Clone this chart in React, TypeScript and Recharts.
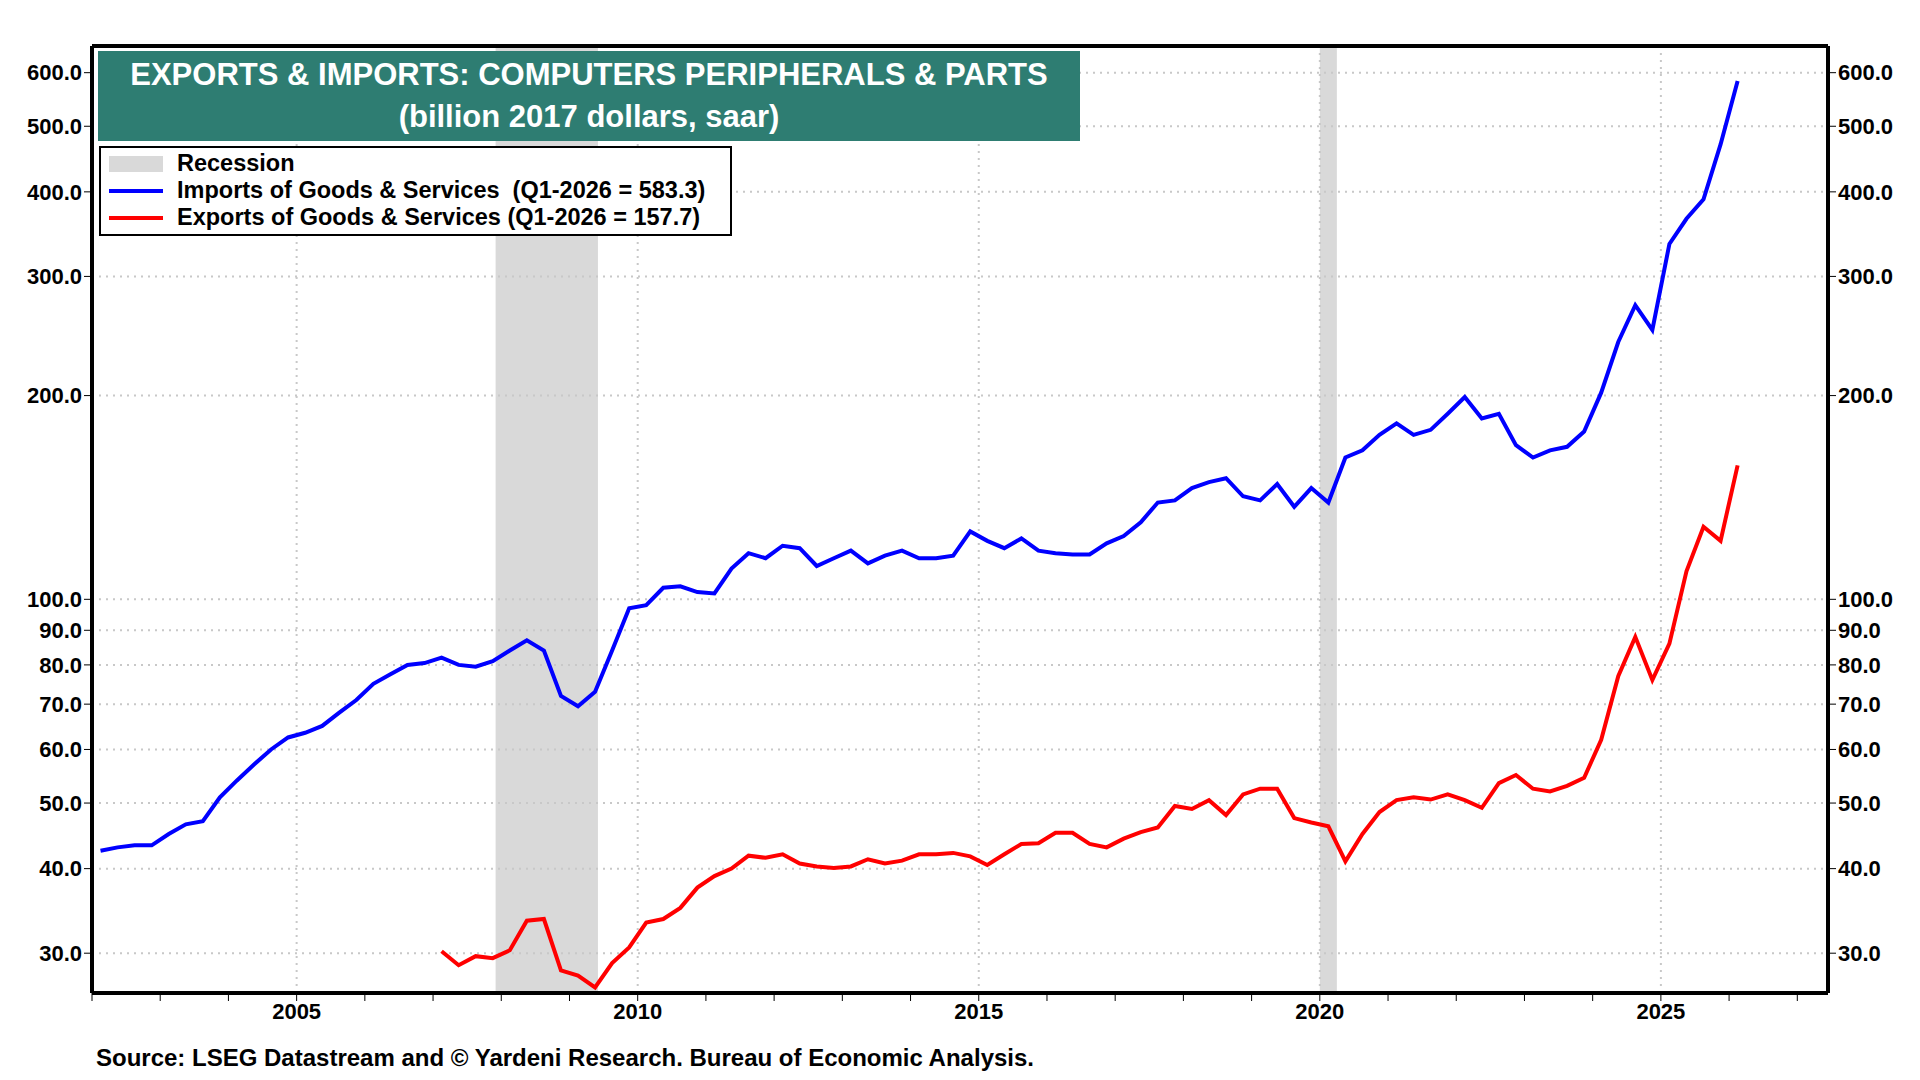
import React from 'react';
import { LineChart, Line, XAxis, YAxis, ReferenceArea, ReferenceLine } from 'recharts';

// quarterly values, imports from Q1-2002, exports from Q1-2007
const imports = [
  42.5, 43, 43.3, 43.3, 45, 46.5, 47, 51, 54, 57, 60, 62.5,
  63.5, 65, 68, 71, 75, 77.5, 80, 80.5, 82, 80, 79.5, 81,
  84, 87, 84, 72, 69.5, 73, 84, 97, 98, 104, 104.5, 102.5,
  102, 111, 117, 115, 120, 119, 112, 115, 118, 113, 116, 118,
  115, 115, 116, 126, 122, 119, 123, 118, 117, 116.5, 116.5, 121,
  124, 130, 139, 140, 146, 149, 151, 142, 140, 148, 137, 146,
  139, 162, 166, 175, 182, 175, 178, 188, 199, 185, 188, 169,
  162, 166, 168, 177, 202, 240, 272, 250, 335, 365, 390, 470, 583.3,
];
const exportsData = [
  30.2, 28.8, 29.7, 29.5, 30.3, 33.5, 33.7, 28.3, 27.8, 26.7, 29, 30.6,
  33.3, 33.7, 35, 37.5, 39, 40, 41.8, 41.5, 42, 40.7, 40.3, 40.1,
  40.3, 41.3, 40.7, 41.1, 42, 42, 42.2, 41.7, 40.5, 42, 43.5, 43.6,
  45.2, 45.2, 43.5, 43, 44.3, 45.3, 46, 49.5, 49, 50.5, 48, 51.5,
  52.5, 52.5, 47.5, 46.8, 46.2, 41, 45, 48.5, 50.5, 51, 50.6,
  51.5, 50.5, 49.2, 53.5, 55, 52.5, 52, 53, 54.5, 62, 77, 88,
  76, 86, 110, 128, 122, 157.7,
];
const yTicks = [30, 40, 50, 60, 70, 80, 90, 100, 200, 300, 400, 500, 600];
const years = Array.from({ length: 26 }, (_, i) => 2002 + i);
const majorYears = [2005, 2010, 2015, 2020, 2025];
const recessions = [
  [2007.917, 2009.417],
  [2020.0, 2020.25],
];

const data = imports.map((v, i) => ({
  t: 2002 + i / 4 + 0.125,
  imp: v,
  exp: i >= 20 ? exportsData[i - 20] : null,
}));

const font = '"Liberation Sans", Arial, sans-serif';
const tickStyle = { fontSize: 22, fontWeight: 'bold', fill: '#000', fontFamily: font };

export default function App() {
  return (
    <div style={{ position: 'absolute', left: 0, top: 0, width: 1920, height: 1080, background: '#fff', fontFamily: font }}>
      <LineChart width={1920} height={1080} data={data} margin={{ top: 46, right: 0, bottom: 0, left: 0 }}>
        {recessions.map(([a, b]) => (
          <ReferenceArea key={a} yAxisId="l" x1={a} x2={b} fill="#d9d9d9" fillOpacity={1} stroke="none" />
        ))}
        {yTicks.map((v) => (
          <ReferenceLine key={v} yAxisId="l" y={v} stroke="#c8c8c8" strokeWidth={2} strokeDasharray="2 5" />
        ))}
        {majorYears.map((y) => (
          <ReferenceLine key={y} yAxisId="l" x={y} stroke="#c8c8c8" strokeWidth={2} strokeDasharray="2 5" />
        ))}
        <XAxis
          dataKey="t"
          type="number"
          domain={[2002, 2027.45]}
          ticks={years}
          tickFormatter={(v: number) => (v % 5 === 0 ? String(v) : '')}
          height={87}
          stroke="#000"
          axisLine={{ strokeWidth: 4 }}
          tickSize={8}
          tick={tickStyle}
          interval={0}
        />
        <YAxis
          yAxisId="l"
          scale="log"
          domain={[26.2, 657]}
          ticks={yTicks}
          tickFormatter={(v: number) => v.toFixed(1)}
          width={92}
          stroke="#000"
          axisLine={{ strokeWidth: 4 }}
          tickSize={8}
          tick={tickStyle}
          interval={0}
          allowDataOverflow
        />
        <YAxis
          yAxisId="r"
          orientation="right"
          scale="log"
          domain={[26.2, 657]}
          ticks={yTicks}
          tickFormatter={(v: number) => v.toFixed(1)}
          width={92}
          stroke="#000"
          axisLine={{ strokeWidth: 4 }}
          tickSize={8}
          tick={tickStyle}
          interval={0}
          allowDataOverflow
        />
        <ReferenceLine yAxisId="l" y={657} stroke="#000" strokeWidth={4} />
        <Line yAxisId="l" dataKey="imp" stroke="#0000ff" strokeWidth={4} dot={false} isAnimationActive={false} />
        <Line yAxisId="l" dataKey="exp" stroke="#ff0000" strokeWidth={4} dot={false} isAnimationActive={false} connectNulls={false} />
      </LineChart>
      <div style={{ position: 'absolute', left: 98, top: 51, width: 982, height: 90, background: '#2e7d72', color: '#fff', fontWeight: 'bold', fontSize: 31, textAlign: 'center', lineHeight: '42px', paddingTop: 3, boxSizing: 'border-box' }}>
        <div>EXPORTS &amp; IMPORTS: COMPUTERS PERIPHERALS &amp; PARTS</div>
        <div>(billion 2017 dollars, saar)</div>
      </div>
      <div style={{ position: 'absolute', left: 99, top: 146, width: 633, height: 90, border: '2px solid #000', background: '#fff', boxSizing: 'border-box', padding: '2px 8px', fontWeight: 'bold', fontSize: 23.5, lineHeight: '27px' }}>
        {[
          { c: '#d9d9d9', h: 16, t: 'Recession' },
          { c: '#0000ff', h: 4, t: 'Imports of Goods & Services  (Q1-2026 = 583.3)' },
          { c: '#ff0000', h: 4, t: 'Exports of Goods & Services (Q1-2026 = 157.7)' },
        ].map((r) => (
          <div key={r.t} style={{ display: 'flex', alignItems: 'center', whiteSpace: 'pre' }}>
            <span style={{ display: 'inline-block', width: 54, height: r.h, background: r.c, marginRight: 14 }} />
            {r.t}
          </div>
        ))}
      </div>
      <div style={{ position: 'absolute', left: 96, top: 1044, fontWeight: 'bold', fontSize: 24 }}>
        Source: LSEG Datastream and © Yardeni Research. Bureau of Economic Analysis.
      </div>
    </div>
  );
}
